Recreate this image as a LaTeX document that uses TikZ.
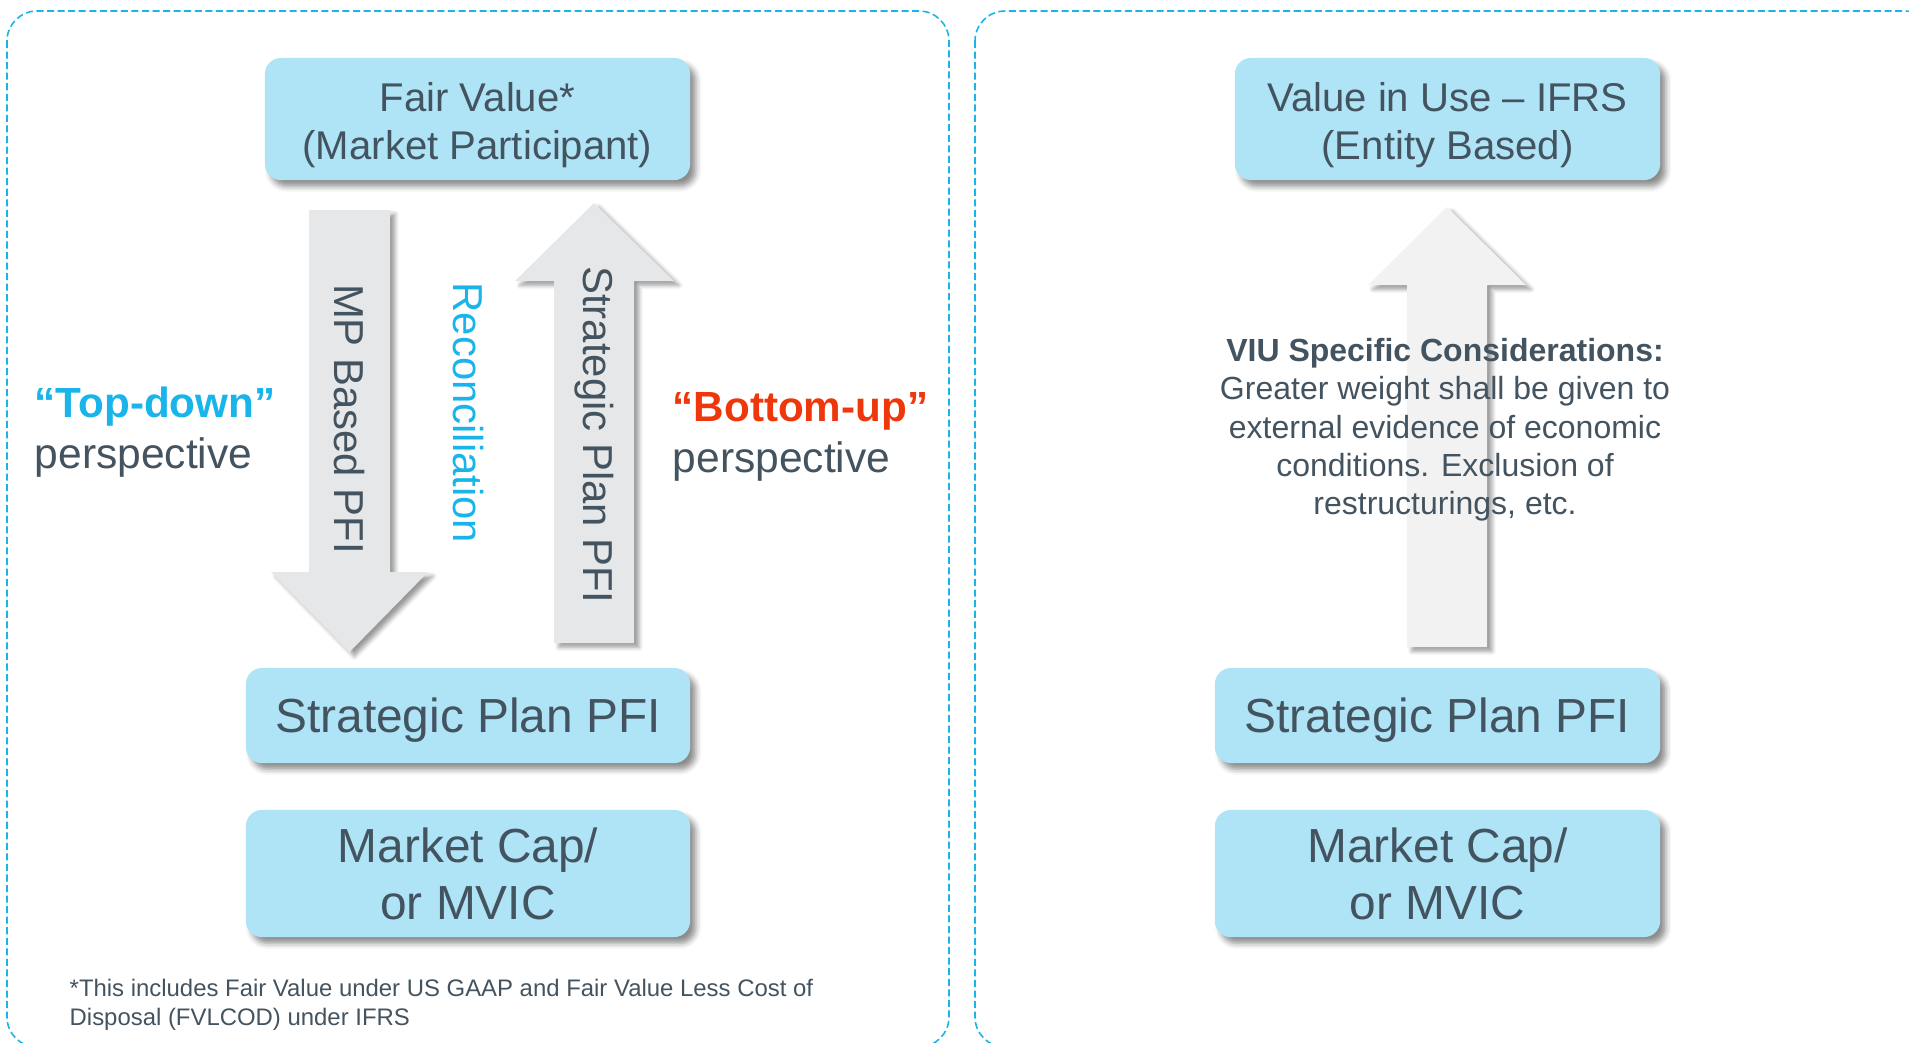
\documentclass[tikz,border=0pt]{standalone}
\usepackage{fontspec}
\setmainfont{Liberation Sans}
\usepackage{xcolor}
\usetikzlibrary{shadows.blur}
\definecolor{boxblue}{RGB}{174,228,246}
\definecolor{inkgray}{RGB}{67,83,95}
\definecolor{skyblue}{RGB}{24,180,234}
\definecolor{flamered}{RGB}{238,56,12}
\definecolor{arrowgray}{RGB}{230,231,232}
\definecolor{arrowlight}{RGB}{242,242,242}
\newcommand{\boxstrut}{\rule[-0.212em]{0pt}{1.117em}}
\newcommand{\toprule}{\rule{0pt}{1.03em}}
\tikzset{
	panel/.style={draw=skyblue, line width=0.45pt, dash pattern=on 2pt off 1pt, rounded corners=0.3cm},
	valuebox/.style={fill=boxblue, text=inkgray, rounded corners=0.16cm, align=center, inner sep=0pt,
			blur shadow={shadow xshift=1.6pt, shadow yshift=-1.8pt, shadow blur radius=1.6pt, shadow opacity=45}},
	bigtext/.style={font=\fontsize{13.6}{16.2}\selectfont},
	smalltext/.style={font=\fontsize{11.4}{13.4}\selectfont},
	blockarrow/.style={fill=#1, blur shadow={shadow xshift=1.4pt, shadow yshift=-1.2pt, shadow blur radius=1.2pt, shadow opacity=40}},
	sidetext/.style={rotate=-90, inner sep=0pt, font=\fontsize{11.9}{14}\selectfont},
	plaintext/.style={inner sep=0pt, text=inkgray}
}

\begin{document}
\begin{tikzpicture}[x=0.01cm, y=-0.01cm]
		\useasboundingbox (0,0) rectangle (1909,1042);

		% Dashed panels
		\draw[panel] (7,11) rectangle (949,1047);
		\draw[panel] (975,11) rectangle (1935,1047);

		% Left panel: boxes
		\node[valuebox, smalltext, minimum width=4.25cm, minimum height=1.22cm] (fairvalue) at (477.5,119) {\toprule Fair Value*\\(Market Participant)};
		\node[valuebox, bigtext, minimum width=4.44cm, minimum height=0.95cm] (planleft) at (468,715.5) {\boxstrut Strategic Plan PFI};
		\node[valuebox, bigtext, minimum width=4.44cm, minimum height=1.27cm] (capleft) at (468,873.5) {Market Cap/\\or MVIC};

		% Left panel: down arrow and up arrow
		\fill[blockarrow=arrowgray] (309,210) -- (390,210) -- (390,572) -- (428,572) -- (349.5,652) -- (271,572) -- (309,572) -- cycle;
		\fill[blockarrow=arrowgray] (554,643) -- (634,643) -- (634,281) -- (674,281) -- (594,203) -- (515,281) -- (554,281) -- cycle;
		\node[sidetext, text=inkgray] (mpbased) at (349.5,419) {MP Based PFI};
		\node[sidetext, text=skyblue] (reconcile) at (468,413) {Reconciliation};
		\node[sidetext, text=inkgray] (planup) at (594,435) {Strategic Plan PFI};

		% Perspectives
		\node[plaintext, anchor=base west, text=skyblue, font=\bfseries\fontsize{12}{14}\selectfont] (topdown) at (34,417) {“Top-down”};
		\node[plaintext, anchor=base west, font=\fontsize{12.1}{14}\selectfont] (topdownp) at (34,468) {perspective};
		\node[plaintext, anchor=base west, text=flamered, font=\bfseries\fontsize{12}{14}\selectfont] (bottomup) at (672,421) {“Bottom-up”};
		\node[plaintext, anchor=base west, font=\fontsize{12.1}{14}\selectfont] (bottomupp) at (672,472) {perspective};

		% Footnote
		\node[plaintext, anchor=west, align=left, font=\fontsize{6.8}{8.3}\selectfont] (footnote) at (69,1005) {*This includes Fair Value under US GAAP and Fair Value Less Cost of\\Disposal (FVLCOD) under IFRS};

		% Right panel: boxes
		\node[valuebox, smalltext, minimum width=4.25cm, minimum height=1.22cm] (valueinuse) at (1447.5,119) {\toprule Value in Use – IFRS\\(Entity Based)};
		\node[valuebox, bigtext, minimum width=4.45cm, minimum height=0.95cm] (planright) at (1437.5,715.5) {\boxstrut Strategic Plan PFI};
		\node[valuebox, bigtext, minimum width=4.45cm, minimum height=1.27cm] (capright) at (1437.5,873.5) {Market Cap/\\or MVIC};

		% Right panel: up arrow with considerations
		\fill[blockarrow=arrowlight] (1407,647) -- (1487,647) -- (1487,285) -- (1526,285) -- (1447,207) -- (1368,285) -- (1407,285) -- cycle;
		\node[plaintext, align=center, font=\fontsize{9.1}{10.9}\selectfont] (viutext) at (1445,430) {\textbf{VIU Specific Considerations:}\\Greater weight shall be given to\\external evidence of economic\\conditions. Exclusion of\\restructurings, etc.};
	\end{tikzpicture}
\end{document}
